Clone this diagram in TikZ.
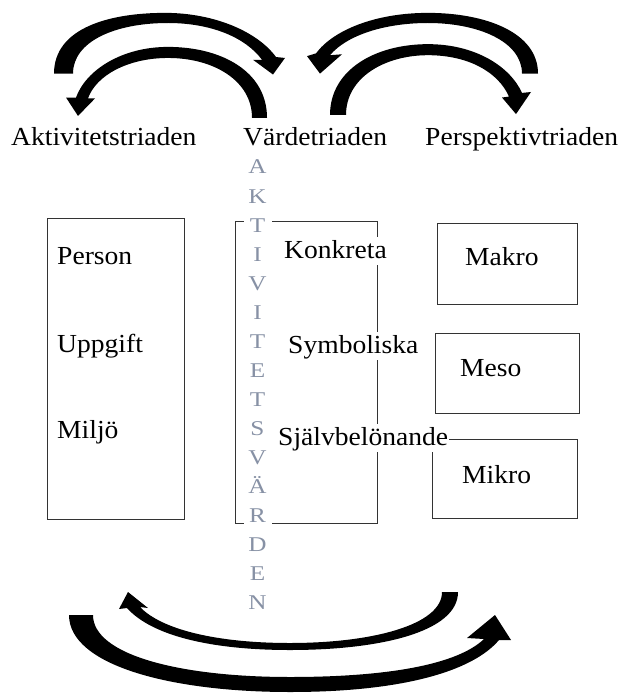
\documentclass[tikz,border=0pt]{standalone}
\usepackage{fontspec}
\setmainfont[FakeStretch=1.06]{Liberation Serif}
\newfontfamily\vletterfont[FakeStretch=1.2]{Liberation Serif}
\definecolor{lettergray}{RGB}{135,145,165}
\begin{document}
\begin{tikzpicture}[x=1pt,y=-1pt,
  lbl/.style={font=\fontsize{26pt}{30pt}\selectfont, anchor=base west, inner sep=0pt},
  cover/.style={lbl, fill=white, inner xsep=1pt, inner ysep=2pt, text height=19pt, text depth=5pt},
  frame/.style={draw=black!80, line width=1.3pt},
  boxnode/.style={frame, anchor=north west, inner sep=0pt},
  vletter/.style={font=\vletterfont\fontsize{21pt}{24pt}\selectfont, text=lettergray, fill=white, anchor=base, minimum width=28pt, inner sep=2.5pt},
  blockarrow/.style={fill=black}]
\useasboundingbox (0,0) rectangle (624,695);

\begin{scope}[yscale=0.92]
% top-left outer arrow
\fill[blockarrow] (54,80) .. controls (54,30) and (110,14) .. (165,14)
  .. controls (215,14) and (258,35) .. (276,62) -- (285,63) -- (273,81) -- (253,65) -- (262,65)
  .. controls (245,40) and (210,25) .. (168,25) .. controls (115,25) and (73,45) .. (73,80) -- cycle;
% top-left inner arrow
\fill[blockarrow] (267,128) .. controls (267,78) and (222,51) .. (168,51)
  .. controls (122,51) and (86,76) .. (76,106) -- (66,106) -- (78,126) -- (95,107) -- (88,107)
  .. controls (96,82) and (128,63) .. (168,63) .. controls (214,63) and (252,88) .. (252,128) -- cycle;
% top-right outer arrow
\fill[blockarrow] (538,80) .. controls (538,35) and (485,14) .. (428,14)
  .. controls (375,14) and (333,33) .. (316,58) -- (307,61) -- (320,80) -- (342,59) -- (330,60)
  .. controls (347,38) and (385,25) .. (428,25) .. controls (478,25) and (522,45) .. (522,80) -- cycle;
% top-right inner arrow
\fill[blockarrow] (330,125) .. controls (330,76) and (375,48) .. (428,48)
  .. controls (475,48) and (510,72) .. (522,101) -- (531,100) -- (516,124) -- (502,106) -- (509,105)
  .. controls (498,78) and (468,60) .. (428,60) .. controls (385,60) and (346,84) .. (346,125) -- cycle;
\end{scope}
% bottom inner arrow
\fill[blockarrow] (458,592) .. controls (458,632) and (380,650) .. (290,650)
  .. controls (212,650) and (152,636) .. (127,608) -- (119,609) -- (128,592) -- (148,608) -- (140,607)
  .. controls (162,630) and (218,643) .. (290,643) .. controls (372,643) and (442,625) .. (442,592) -- cycle;
% bottom outer arrow
\fill[blockarrow] (69,615) .. controls (69,665) and (170,692) .. (290,692)
  .. controls (400,692) and (472,672) .. (499,640) -- (511,640) -- (495,615) -- (467,638) -- (484,639)
  .. controls (458,664) and (390,677) .. (290,677) .. controls (180,677) and (93,655) .. (93,615) -- cycle;

% titles
\node[lbl] (akt) at (11,146) {Aktivitetstriaden};
\node[lbl] (vard) at (243,146) {Värdetriaden};
\node[lbl] (persp) at (425,146) {Perspektivtriaden};

% boxes
\node[boxnode, minimum width=137pt, minimum height=301pt] (aktbox) at (47,218) {};
\node[boxnode, minimum width=142pt, minimum height=302pt] (bracket) at (235,221) {};
\node[boxnode, minimum width=140pt, minimum height=81pt] (makrobox) at (437,223) {};
\node[boxnode, minimum width=144pt, minimum height=80pt] (mesobox) at (435,333) {};
\node[boxnode, minimum width=145pt, minimum height=79pt] (mikrobox) at (432,439) {};

% box texts
\node[lbl] (person) at (57,264) {Person};
\node[lbl] (uppgift) at (57,352) {Uppgift};
\node[lbl] (miljo) at (57,438) {Miljö};
\node[cover] (konkreta) at (283,258) {Konkreta};
\node[cover] (symb) at (287,353) {Symboliska};
\node[cover] (sjalv) at (277,445) {Självbelönande};
\node[lbl] (makro) at (465,265) {Makro};
\node[lbl] (meso) at (460,376) {Meso};
\node[lbl] (mikro) at (462,483) {Mikro};

% vertical letters
\foreach \ch [count=\i] in {A,K,T,I,V,I,T,E,T,S,V,Ä,R,D,E,N}
  \node[vletter] (v\i) at (257.5,{174+29*(\i-1)}) {\ch};
\end{tikzpicture}
\end{document}
